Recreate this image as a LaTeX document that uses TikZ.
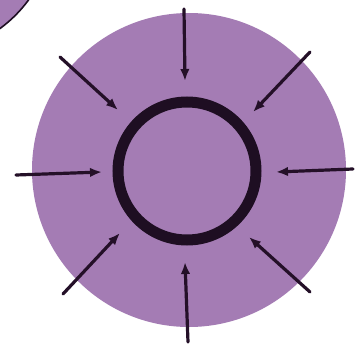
\documentclass[tikz,border=0pt]{standalone}
\usetikzlibrary{arrows.meta}
\definecolor{lilac}{RGB}{164,124,180}
\definecolor{ink}{RGB}{30,14,34}
\definecolor{arrowink}{RGB}{36,16,40}
\tikzset{
  inarrow/.style={draw=arrowink, line width=3.2pt, line cap=round, -{Latex[length=12pt,width=9.5pt]}},
  ringnode/.style={circle, draw=ink, line width=11pt, minimum size=138pt, inner sep=0pt},
}
\begin{document}
\begin{tikzpicture}[x=1pt,y=-1pt]
\useasboundingbox (0,0) rectangle (360,351);
\fill[white] (0,0) rectangle (360,351);
% partial neighbour circle, top-left corner
\begin{scope}
\clip (0,0) rectangle (360,351);
\fill[lilac] (-78,-78) circle (132);
\draw[ink, line width=1.6pt] (-78,-78) circle (132);
\end{scope}
% big disc
\fill[lilac] (189,170) circle (157);
\node[ringnode] (ring) at (187,171) {};
% arrow end points
\coordinate (s1) at (184,9);   \coordinate (t1) at (185,81);
\coordinate (s2) at (310,52);  \coordinate (t2) at (253,112);
\coordinate (s3) at (353,169); \coordinate (t3) at (276,172);
\coordinate (s4) at (310,292); \coordinate (t4) at (249,237);
\coordinate (s5) at (188,342); \coordinate (t5) at (185,262);
\coordinate (s6) at (63,294);  \coordinate (t6) at (120,233);
\coordinate (s7) at (16,175);  \coordinate (t7) at (102,172);
\coordinate (s8) at (60,57);   \coordinate (t8) at (118,110);
\foreach \i in {1,...,8} {\draw[inarrow] (s\i) -- (t\i);}
\end{tikzpicture}
\end{document}
